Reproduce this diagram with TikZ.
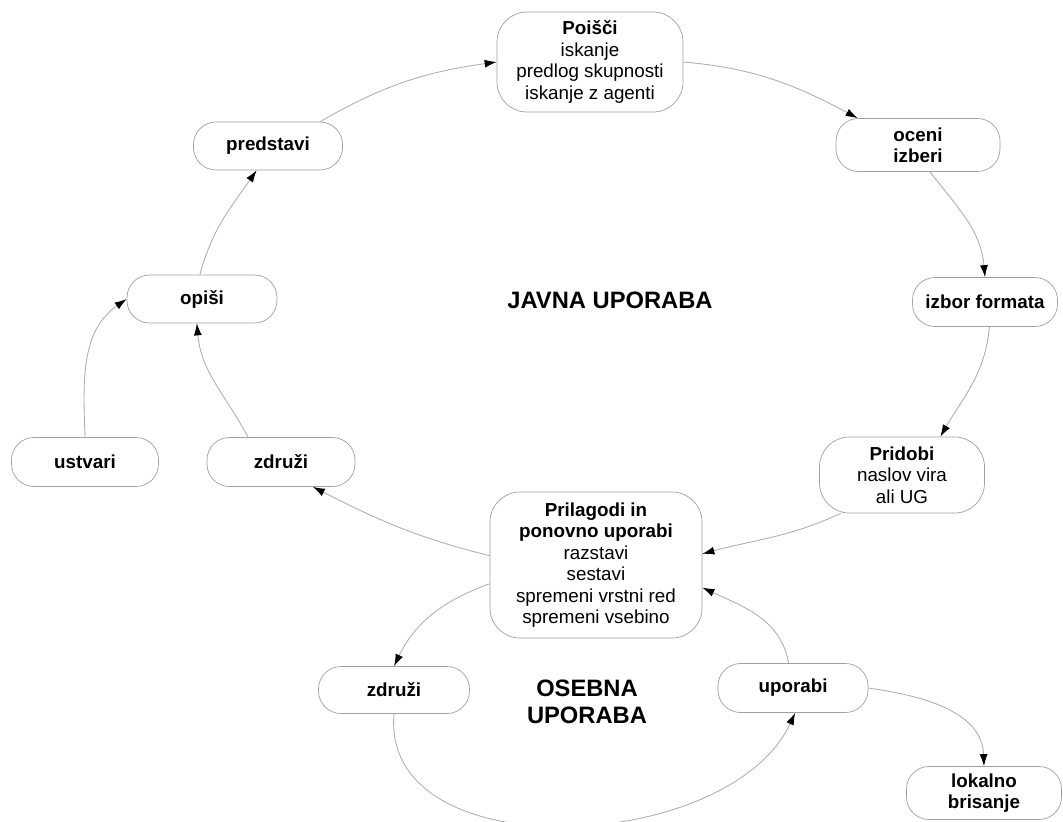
\documentclass[tikz,border=0pt]{standalone}
\usepackage{fontspec}
\setmainfont{Liberation Sans}
\usetikzlibrary{arrows.meta}
\definecolor{edgegray}{RGB}{175,175,175}
\definecolor{boxgray}{RGB}{160,160,160}
\newcommand{\nodesize}{\fontsize{10.7}{12.2}\selectfont}
\newcommand{\areasize}{\fontsize{13.5}{15.5}\selectfont}
\tikzset{
  box/.style={draw=boxgray, fill=white, rounded corners=0.45cm, align=center, inner sep=0pt, font=\nodesize},
  bigbox/.style={box, rounded corners=0.6cm},
  link/.style={draw=edgegray, line width=0.5pt, -{Latex[length=2.4mm,width=1.6mm,color=black]}},
  area/.style={font=\areasize\bfseries, align=center},
}
\begin{document}
\begin{tikzpicture}[x=0.2mm, y=0.2mm]
\useasboundingbox (0,0) rectangle (1063,-822);
% javna uporaba
\node[bigbox, minimum width=3.72cm, minimum height=2cm] (poisci) at (590,-62) {\textbf{Poišči}\\iskanje\\predlog skupnosti\\iskanje z agenti};
\node[box, minimum width=3.28cm, minimum height=1.06cm] (oceni) at (918,-145) {\textbf{oceni}\\\textbf{izberi}};
\node[box, minimum width=2.9cm, minimum height=0.98cm] (izbor) at (985,-302) {\textbf{izbor formata}};
\node[bigbox, minimum width=3.3cm, minimum height=1.52cm] (pridobi) at (902,-475) {\textbf{Pridobi}\\naslov vira\\ali UG};
\node[bigbox, minimum width=4.24cm, minimum height=2.92cm] (prilagodi) at (596,-565) {\textbf{Prilagodi in}\\\textbf{ponovno uporabi}\\razstavi\\sestavi\\spremeni vrstni red\\spremeni vsebino};
\node[box, minimum width=2.96cm, minimum height=0.98cm] (zdruziA) at (281,-462) {\textbf{združi}};
\node[box, minimum width=2.94cm, minimum height=0.98cm] (ustvari) at (85,-462) {\textbf{ustvari}};
\node[box, minimum width=3cm, minimum height=0.96cm] (opisi) at (202,-299) {\textbf{opiši}};
\node[box, minimum width=2.98cm, minimum height=0.96cm] (predstavi) at (268,-146) {\textbf{predstavi}};
% osebna uporaba
\node[box, minimum width=3.02cm, minimum height=0.94cm] (zdruziB) at (394,-690) {\textbf{združi}};
\node[box, minimum width=3cm, minimum height=0.98cm] (uporabi) at (793,-688) {\textbf{uporabi}};
\node[box, minimum width=3.1cm, minimum height=1.06cm] (lokalno) at (984,-793) {\textbf{lokalno}\\\textbf{brisanje}};
\node[area] (javna) at (610,-300) {JAVNA UPORABA};
\node[area] (osebna) at (587,-702) {OSEBNA\\UPORABA};
% povezave
\draw[link] (predstavi.25) to[out=30, in=188] (poisci.west);
\draw[link] (poisci.east) to[out=-5, in=152] (oceni.156);
\draw[link] (oceni.-66) to[out=-52, in=95] (izbor.north);
\draw[link] (izbor.-80) to[out=-95, in=60] (pridobi.45);
\draw[link] (pridobi.212) to[out=205, in=15] (prilagodi.6);
\draw[link] (prilagodi.175) to[out=166, in=-27] (zdruziA.-38);
\draw[link] (zdruziA.143) to[out=118, in=-85] (opisi.-102);
\draw[link] (ustvari.north) to[out=92, in=215] (opisi.west);
\draw[link] (opisi.95) to[out=75, in=235] (predstavi.-115);
\draw[link] (prilagodi.190) to[out=200, in=64] (zdruziB.north);
\draw[link] (zdruziB.south) to[out=-95, in=-115] (uporabi.-85);
\draw[link] (uporabi.100) to[out=100, in=-25] (prilagodi.-12);
\draw[link] (uporabi.east) to[out=-8, in=92] (lokalno.north);
\end{tikzpicture}
\end{document}
